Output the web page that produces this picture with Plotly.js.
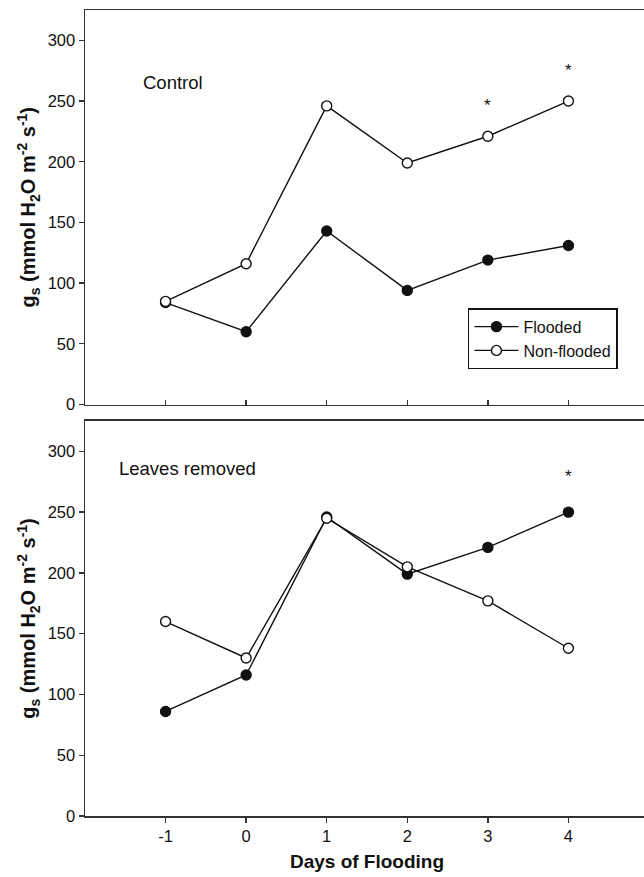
<!DOCTYPE html>
<html>
<head>
<meta charset="utf-8">
<script src="https://cdn.plot.ly/plotly-3.0.1.min.js"></script>
<style>
  html, body { margin: 0; padding: 0; overflow: hidden; background: #fff; }
  #chart { width: 660px; height: 877px; }
</style>
</head>
<body>
<div id="chart"></div>
<script>
// Stomatal conductance over days of flooding
const days = [-1, 0, 1, 2, 3, 4];
const dayTicks = ['-1', '0', '1', '2', '3', '4'];

// Control plants
const controlFlooded    = [84, 60, 143, 94, 119, 131];
const controlNonFlooded = [85, 116, 246, 199, 221, 250];

// Plants with leaves removed
const removedFlooded    = [86, 116, 246, 199, 221, 250];
const removedNonFlooded = [160, 130, 245, 205, 177, 138];

// Days with significant differences (marked with an asterisk)
const controlSigDays = [3, 4];
const removedSigDays = [4];

const FONT = 'Liberation Sans, Arial, Helvetica, sans-serif';
const INK = '#111';
const AXIS = '#333';

function series(x, y, filled, xa, ya, name, showlegend) {
  return {
    x: x, y: y, xaxis: xa, yaxis: ya, name: name, showlegend: showlegend,
    type: 'scatter', mode: 'lines+markers',
    line: { color: INK, width: 1.4 },
    marker: {
      symbol: 'circle', size: 10,
      color: filled ? INK : '#fff',
      line: { color: INK, width: 1.4 }
    }
  };
}

const traces = [
  series(days, controlFlooded, true, 'x2', 'y2', 'Flooded', true),
  series(days, controlNonFlooded, false, 'x2', 'y2', 'Non-flooded', true),
  series(days, removedFlooded, true, 'x', 'y', 'Flooded', false),
  series(days, removedNonFlooded, false, 'x', 'y', 'Non-flooded', false)
];

// asterisk placed above the point it refers to
function star(day, values, xa, ya, lift) {
  const v = values[days.indexOf(day)];
  return {
    x: day, y: v, xref: xa, yref: ya, text: '*', showarrow: false,
    yanchor: 'middle', yshift: lift,
    font: { family: FONT, size: 17, color: INK }
  };
}

const yTitle = 'g<sub>s</sub> (mmol H<sub>2</sub>O m<sup>-2</sup> s<sup>-1</sup>)';

function yAxis(domain, anchor) {
  return {
    domain: domain, anchor: anchor, range: [0, 325],
    tickvals: [0, 50, 100, 150, 200, 250, 300],
    ticks: 'outside', ticklen: 5, tickwidth: 1.3, tickcolor: AXIS,
    showline: true, linecolor: AXIS, linewidth: 1.5, mirror: true,
    showgrid: false, zeroline: false,
    tickfont: { family: FONT, size: 16.5, color: INK },
    title: { text: yTitle, standoff: 6,
             font: { family: FONT, size: 20, color: INK, weight: 'bold' } }
  };
}

function xAxis(anchor, bottom) {
  return {
    anchor: anchor, domain: [0, 1], range: [-2, 5],
    tickvals: days, ticktext: dayTicks,
    ticks: bottom ? 'outside' : 'inside', ticklen: 5, tickwidth: 1.3, tickcolor: AXIS,
    showticklabels: bottom,
    showline: true, linecolor: AXIS, linewidth: 1.5, mirror: true,
    showgrid: false, zeroline: false,
    tickfont: { family: FONT, size: 16.5, color: INK },
    title: bottom ? { text: 'Days of Flooding', standoff: 10,
             font: { family: FONT, size: 19, color: INK, weight: 'bold' } } : { text: '' }
  };
}

const annotations = [
  { xref: 'x2 domain', yref: 'y2 domain', x: 0.1, y: 0.815, xanchor: 'left', yanchor: 'middle',
    text: 'Control', showarrow: false, font: { family: FONT, size: 18.5, color: INK } },
  { xref: 'x domain', yref: 'y domain', x: 0.057, y: 0.88, xanchor: 'left', yanchor: 'middle',
    text: 'Leaves removed', showarrow: false, font: { family: FONT, size: 18.5, color: INK } }
];
controlSigDays.forEach(d => annotations.push(star(d, controlNonFlooded, 'x2', 'y2', 31)));
removedSigDays.forEach(d => annotations.push(star(d, removedFlooded, 'x', 'y', 36)));

const layout = {
  width: 660, height: 877,
  margin: { l: 85, r: 11, t: 10, b: 61 },
  paper_bgcolor: '#fff', plot_bgcolor: '#fff',
  font: { family: FONT, color: INK },
  showlegend: true,
  legend: {
    x: 0.679, y: 0.630, xanchor: 'left', yanchor: 'top',
    bgcolor: '#fff', bordercolor: INK, borderwidth: 1.5,
    font: { family: FONT, size: 16, color: INK },
    tracegroupgap: 0, itemwidth: 44
  },
  xaxis: xAxis('y', true),
  yaxis: yAxis([0, 0.4901], 'x'),
  xaxis2: xAxis('y2', false),
  yaxis2: yAxis([0.5105, 1], 'x2'),
  annotations: annotations
};

Plotly.newPlot('chart', traces, layout, { displayModeBar: false, staticPlot: true });
</script>
</body>
</html>
